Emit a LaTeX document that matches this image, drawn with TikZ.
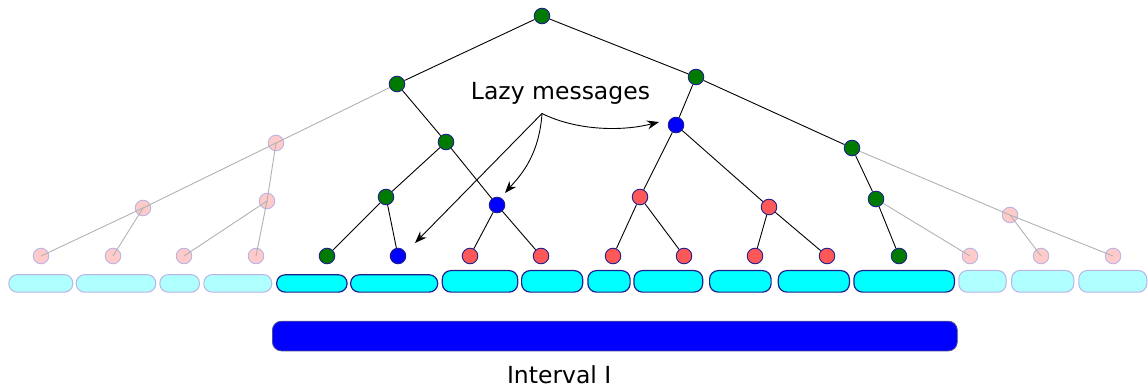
\documentclass[tikz,border=0pt]{standalone}
\usepackage{fontspec}
\setmainfont{DejaVu Sans}
\usetikzlibrary{arrows.meta}
\definecolor{ngreen}{RGB}{0,122,0}
\definecolor{nred}{RGB}{255,88,88}
\definecolor{nblue}{RGB}{0,0,255}
\definecolor{nborder}{RGB}{30,30,140}
\definecolor{fpink}{RGB}{255,202,202}
\definecolor{fborder}{RGB}{185,180,228}
\definecolor{fgray}{RGB}{178,178,178}
\definecolor{ncyan}{RGB}{0,255,255}
\definecolor{fcyan}{RGB}{176,255,255}
\definecolor{barborder}{RGB}{80,80,140}
\pgfdeclarelayer{fadedlayer}
\pgfdeclarelayer{edgelayer}
\pgfsetlayers{fadedlayer,edgelayer,main}
\begin{document}
\begin{tikzpicture}[x=1pt,y=-1pt,
  vtx/.style={circle,inner sep=0pt,minimum size=15.6pt,draw=nborder,line width=0.9pt},
  gn/.style={vtx,fill=ngreen},
  bn/.style={vtx,fill=nblue},
  rn/.style={vtx,fill=nred},
  fn/.style={vtx,fill=fpink,draw=fborder},
  edge/.style={line width=0.9pt,black},
  fedge/.style={line width=0.9pt,fgray},
  seg/.style={draw=nborder,fill=ncyan,line width=1.2pt,rounded corners=8.5pt},
  fseg/.style={draw=fborder,fill=fcyan,line width=1pt,rounded corners=8.5pt},
  bar/.style={draw=barborder,fill=nblue,line width=0.8pt,rounded corners=9pt},
  msg/.style={-{Stealth[length=12pt,width=9pt,inset=4pt]},line width=0.9pt},
  lbl/.style={anchor=base,inner sep=0pt,font=\fontsize{23.5}{28}\selectfont}]
\useasboundingbox (0,0) rectangle (1148,387);

% faded nodes
\begin{pgfonlayer}{fadedlayer}
\node[fn] (aa)  at (276,143) {};
\node[fn] (aaa) at (143,208) {};
\node[fn] (aab) at (267,201) {};
\node[fn] (bbb) at (1010,215) {};
\node[fn] (l1)  at (41,256) {};
\node[fn] (l2)  at (113,256) {};
\node[fn] (l3)  at (184,256) {};
\node[fn] (l4)  at (256,256) {};
\node[fn] (l14) at (970,256) {};
\node[fn] (l15) at (1041,256) {};
\node[fn] (l16) at (1113,256) {};
\end{pgfonlayer}

% active nodes
\node[gn] (root) at (542,16) {};
\node[gn] (a)   at (397,84) {};
\node[gn] (b)   at (696,77) {};
\node[gn] (ab)  at (446,142) {};
\node[bn] (ba)  at (676,125) {};
\node[gn] (bb)  at (852,148) {};
\node[gn] (aba) at (386,197) {};
\node[bn] (abb) at (497,205) {};
\node[rn] (baa) at (640,197) {};
\node[rn] (bab) at (769,207) {};
\node[gn] (bba) at (876,199) {};
\node[gn] (l5)  at (327,256) {};
\node[bn] (l6)  at (398,256) {};
\node[rn] (l7)  at (470,256) {};
\node[rn] (l8)  at (541,256) {};
\node[rn] (l9)  at (613,256) {};
\node[rn] (l10) at (684,256) {};
\node[rn] (l11) at (755,256) {};
\node[rn] (l12) at (827,256) {};
\node[gn] (l13) at (899,256) {};

% edges
\begin{pgfonlayer}{edgelayer}
\draw[fedge] (a.center) -- (aa.center);
\draw[fedge] (aa.center) -- (aaa.center);
\draw[fedge] (aa.center) -- (aab.center);
\draw[fedge] (aaa.center) -- (l1.center);
\draw[fedge] (aaa.center) -- (l2.center);
\draw[fedge] (aab.center) -- (l3.center);
\draw[fedge] (aab.center) -- (l4.center);
\draw[fedge] (bb.center) -- (bbb.center);
\draw[fedge] (bbb.center) -- (l15.center);
\draw[fedge] (bbb.center) -- (l16.center);
\draw[fedge] (bba.center) -- (l14.center);
\draw[edge] (root) -- (a);
\draw[edge] (root) -- (b);
\draw[edge] (a) -- (ab);
\draw[edge] (ab) -- (aba);
\draw[edge] (ab) -- (abb);
\draw[edge] (aba) -- (l5);
\draw[edge] (aba) -- (l6);
\draw[edge] (abb) -- (l7);
\draw[edge] (abb) -- (l8);
\draw[edge] (b) -- (ba);
\draw[edge] (b) -- (bb);
\draw[edge] (ba) -- (baa);
\draw[edge] (ba) -- (bab);
\draw[edge] (baa) -- (l9);
\draw[edge] (baa) -- (l10);
\draw[edge] (bab) -- (l11);
\draw[edge] (bab) -- (l12);
\draw[edge] (bb) -- (bba);
\draw[edge] (bba) -- (l13);
\end{pgfonlayer}

% segments
\path[fseg] (8.8,274.6) rectangle (72.8,292.2);
\path[fseg] (76.2,274.6) rectangle (155.8,292.2);
\path[fseg] (159.8,274.6) rectangle (199.5,292.2);
\path[fseg] (203.8,274.6) rectangle (271.8,292.2);
\path[seg] (276.6,274.8) rectangle (347.1,292.1);
\path[seg] (350.6,274.8) rectangle (437.7,292.1);
\path[seg] (442.3,270.6) rectangle (517.7,292.1);
\path[seg] (521.6,270.6) rectangle (582.7,292.1);
\path[seg] (587.9,270.6) rectangle (630.1,292.1);
\path[seg] (633.9,270.6) rectangle (702.7,292.1);
\path[seg] (709.6,270.6) rectangle (771.1,292.1);
\path[seg] (778.3,270.6) rectangle (849.4,292.1);
\path[seg] (853.9,270.6) rectangle (954.4,292.1);
\path[fseg] (958.8,270.5) rectangle (1006.2,292.2);
\path[fseg] (1011.5,270.5) rectangle (1073.8,292.2);
\path[fseg] (1078.8,270.5) rectangle (1146.8,292.2);

% interval bar
\path[bar] (272.4,321.2) rectangle (957.3,350.9);

% labels and messages
\node[lbl] (lazy) at (560.5,100) {Lazy messages};
\node[lbl] (interval) at (559.2,383) {Interval I};
\coordinate (src) at (542,113.5);
\coordinate (t1) at (415,243);
\coordinate (t2) at (505,193);
\coordinate (t3) at (659,122);
\draw[msg] (src) -- (t1);
\draw[msg] (src) .. controls (539,158) and (518,178) .. (t2);
\draw[msg] (src) .. controls (575,130) and (620,132) .. (t3);
\end{tikzpicture}
\end{document}
